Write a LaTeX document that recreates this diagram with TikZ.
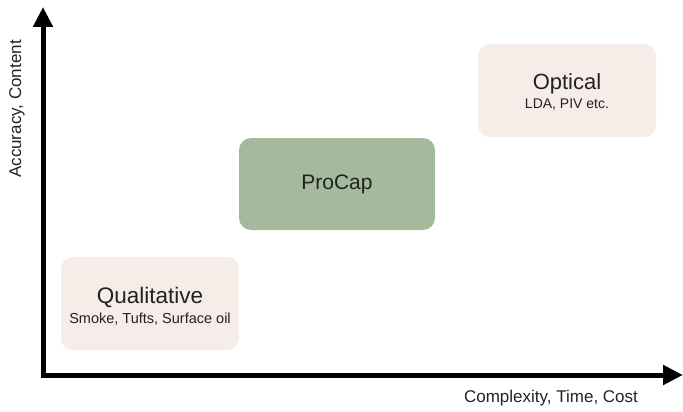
\documentclass[tikz,border=0pt]{standalone}
\usepackage{fontspec}
\setmainfont{Liberation Sans}
\usetikzlibrary{arrows.meta}
\definecolor{boxpink}{HTML}{F6ECE8}
\definecolor{boxgreen}{HTML}{A3BB9C}
\definecolor{textgray}{HTML}{222222}

\begin{document}
\begin{tikzpicture}
    % 1 unit = 1 pixel of the sketch, y runs downwards
    [x=1pt,y=-1pt,
    PinkBox/.style={rectangle,rounded corners=12pt,fill=boxpink,minimum width=178pt,minimum height=93pt,align=center,text=textgray},
    GreenBox/.style={rectangle,rounded corners=12pt,fill=boxgreen,minimum width=196pt,minimum height=92pt,align=center,text=textgray},
    Axis/.style={line width=5pt,-{Triangle[length=20pt,width=19pt]}},
    AxisLabel/.style={text=textgray,font=\fontsize{17}{19}\selectfont}]

    % page size
    \useasboundingbox (0,0) rectangle (683,412);

    % axes
    \coordinate (o) at (43,375);
    \coordinate (ytip) at (43,7);
    \coordinate (xtip) at (683,375);
    \draw[Axis] ([yshift=2.5pt]o)--(ytip);
    \draw[Axis] ([xshift=-2.5pt]o)--(xtip);

    % axis labels
    \node[AxisLabel,rotate=90] (ylab) at (17,109) {Accuracy, Content};
    \node[AxisLabel] (xlab) at (551,398) {Complexity, Time, Cost};

    % method boxes (box drawn from its centre, text in two sizes)
    \node[PinkBox] (qual) at (150,303.5) {};
    \node[align=center,text=textgray] (qualtxt) at ([yshift=-3pt]qual.center)
        {{\fontsize{22.5}{24}\selectfont Qualitative}\\[4pt]{\fontsize{14.5}{16}\selectfont Smoke, Tufts, Surface oil}};
    \node[GreenBox] (procap) at (337,184)
        {\fontsize{21}{23}\selectfont ProCap};
    \node[PinkBox] (optical) at (567,90.5) {};
    \node[align=center,text=textgray] (opttxt) at ([yshift=-1.5pt]optical.center)
        {{\fontsize{22}{24}\selectfont Optical}\\[4pt]{\fontsize{14}{16}\selectfont LDA, PIV etc.}};
\end{tikzpicture}
\end{document}
